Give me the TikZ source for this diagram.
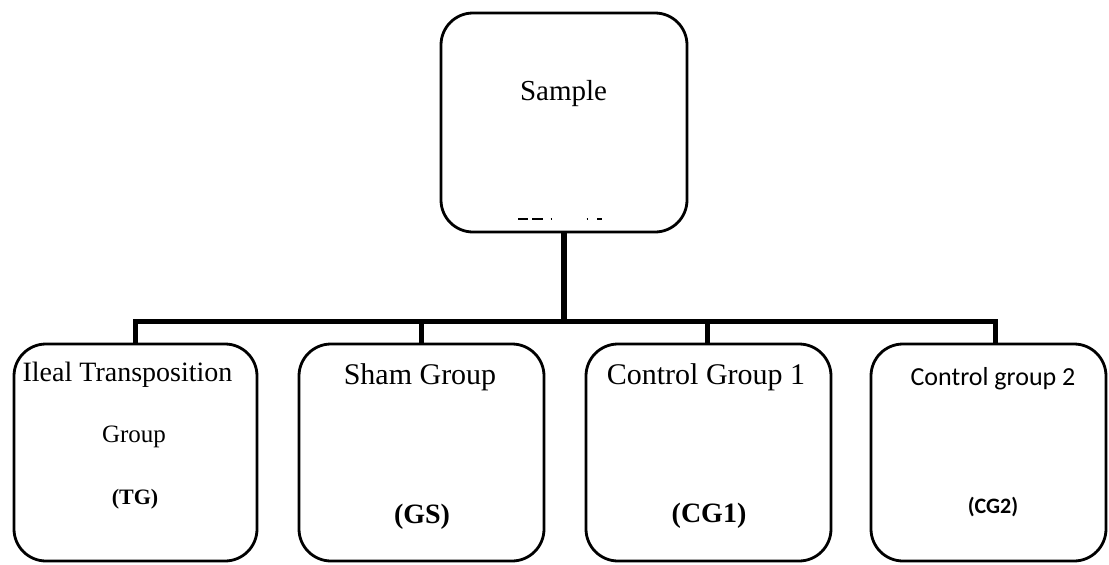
\documentclass[tikz,border=0pt]{standalone}
\usepackage{fontspec}
\setmainfont{Liberation Serif}
\newfontfamily\calibfont{Carlito}
\newcommand{\fs}[1]{\fontsize{#1}{#1}\selectfont}
\begin{document}
\begin{tikzpicture}[x=1pt,y=-1pt,
  groupbox/.style={draw=black,line width=2.8pt,rounded corners=32pt,fill=white,
    inner sep=0pt,outer sep=0pt},
  bus/.style={line width=5pt},
  stem/.style={line width=6pt},
  lbl/.style={anchor=base,inner sep=0pt,text=black},
  tick/.style={line width=2pt}]
\useasboundingbox (0,0) rectangle (1109,565);

% ends of the horizontal bus
\coordinate (busL) at (135,321);
\coordinate (busR) at (995,321);

% boxes
\node[groupbox,minimum width=246pt,minimum height=219pt] (top) at (564,122.5) {};
\node[groupbox,minimum width=243pt,minimum height=217pt] (tg)  at (135.5,452.5) {};
\node[groupbox,minimum width=245pt,minimum height=217pt] (gs)  at (421.5,452.5) {};
\node[groupbox,minimum width=245pt,minimum height=217pt] (cg1) at (708.5,452.5) {};
\node[groupbox,minimum width=235pt,minimum height=217pt] (cg2) at (988.5,452.5) {};

% tree connectors
\draw[stem] (top.south) -- (top.south |- busL);
\draw[bus,line join=miter] (tg.north -| busL) -- (busL) -- (busR) -- (cg2.north -| busR);
\draw[bus] (gs.north) -- (gs.north |- busL);
\draw[bus] ([xshift=-1.5pt]cg1.north) -- ([xshift=-1.5pt]cg1.north |- busL);

% labels
\node[lbl] (tsample) at (563.5,100) {\fs{29}Sample};
\draw[tick] (518,219) -- (528,219);
\draw[tick] (532,219) -- (543,219);
\draw[tick] (550.5,219) -- (552,219);
\draw[tick] (586.5,219) -- (588,219);
\draw[tick] (597,219) -- (602,219);

\node[lbl] (ttg1) at (127.5,381) {\fs{28}Ileal Transposition};
\node[lbl] (ttg2) at (134,442) {\fs{25}Group};
\node[lbl] (ttg3) at (135,504) {\fs{22}\bfseries (TG)};

\node[lbl] (tgs1) at (420,384) {\fs{30}Sham Group};
\node[lbl] (tgs2) at (422,523) {\fs{28}\bfseries (GS)};

\node[lbl] (tcg11) at (706,384) {\fs{30}Control Group 1};
\node[lbl] (tcg12) at (709,522) {\fs{28}\bfseries (CG1)};

\node[lbl] (tcg21) at (993,385) {\calibfont\fs{26}Control group 2};
\node[lbl] (tcg22) at (993,513) {\calibfont\fs{22}\bfseries (CG2)};
\end{tikzpicture}
\end{document}
